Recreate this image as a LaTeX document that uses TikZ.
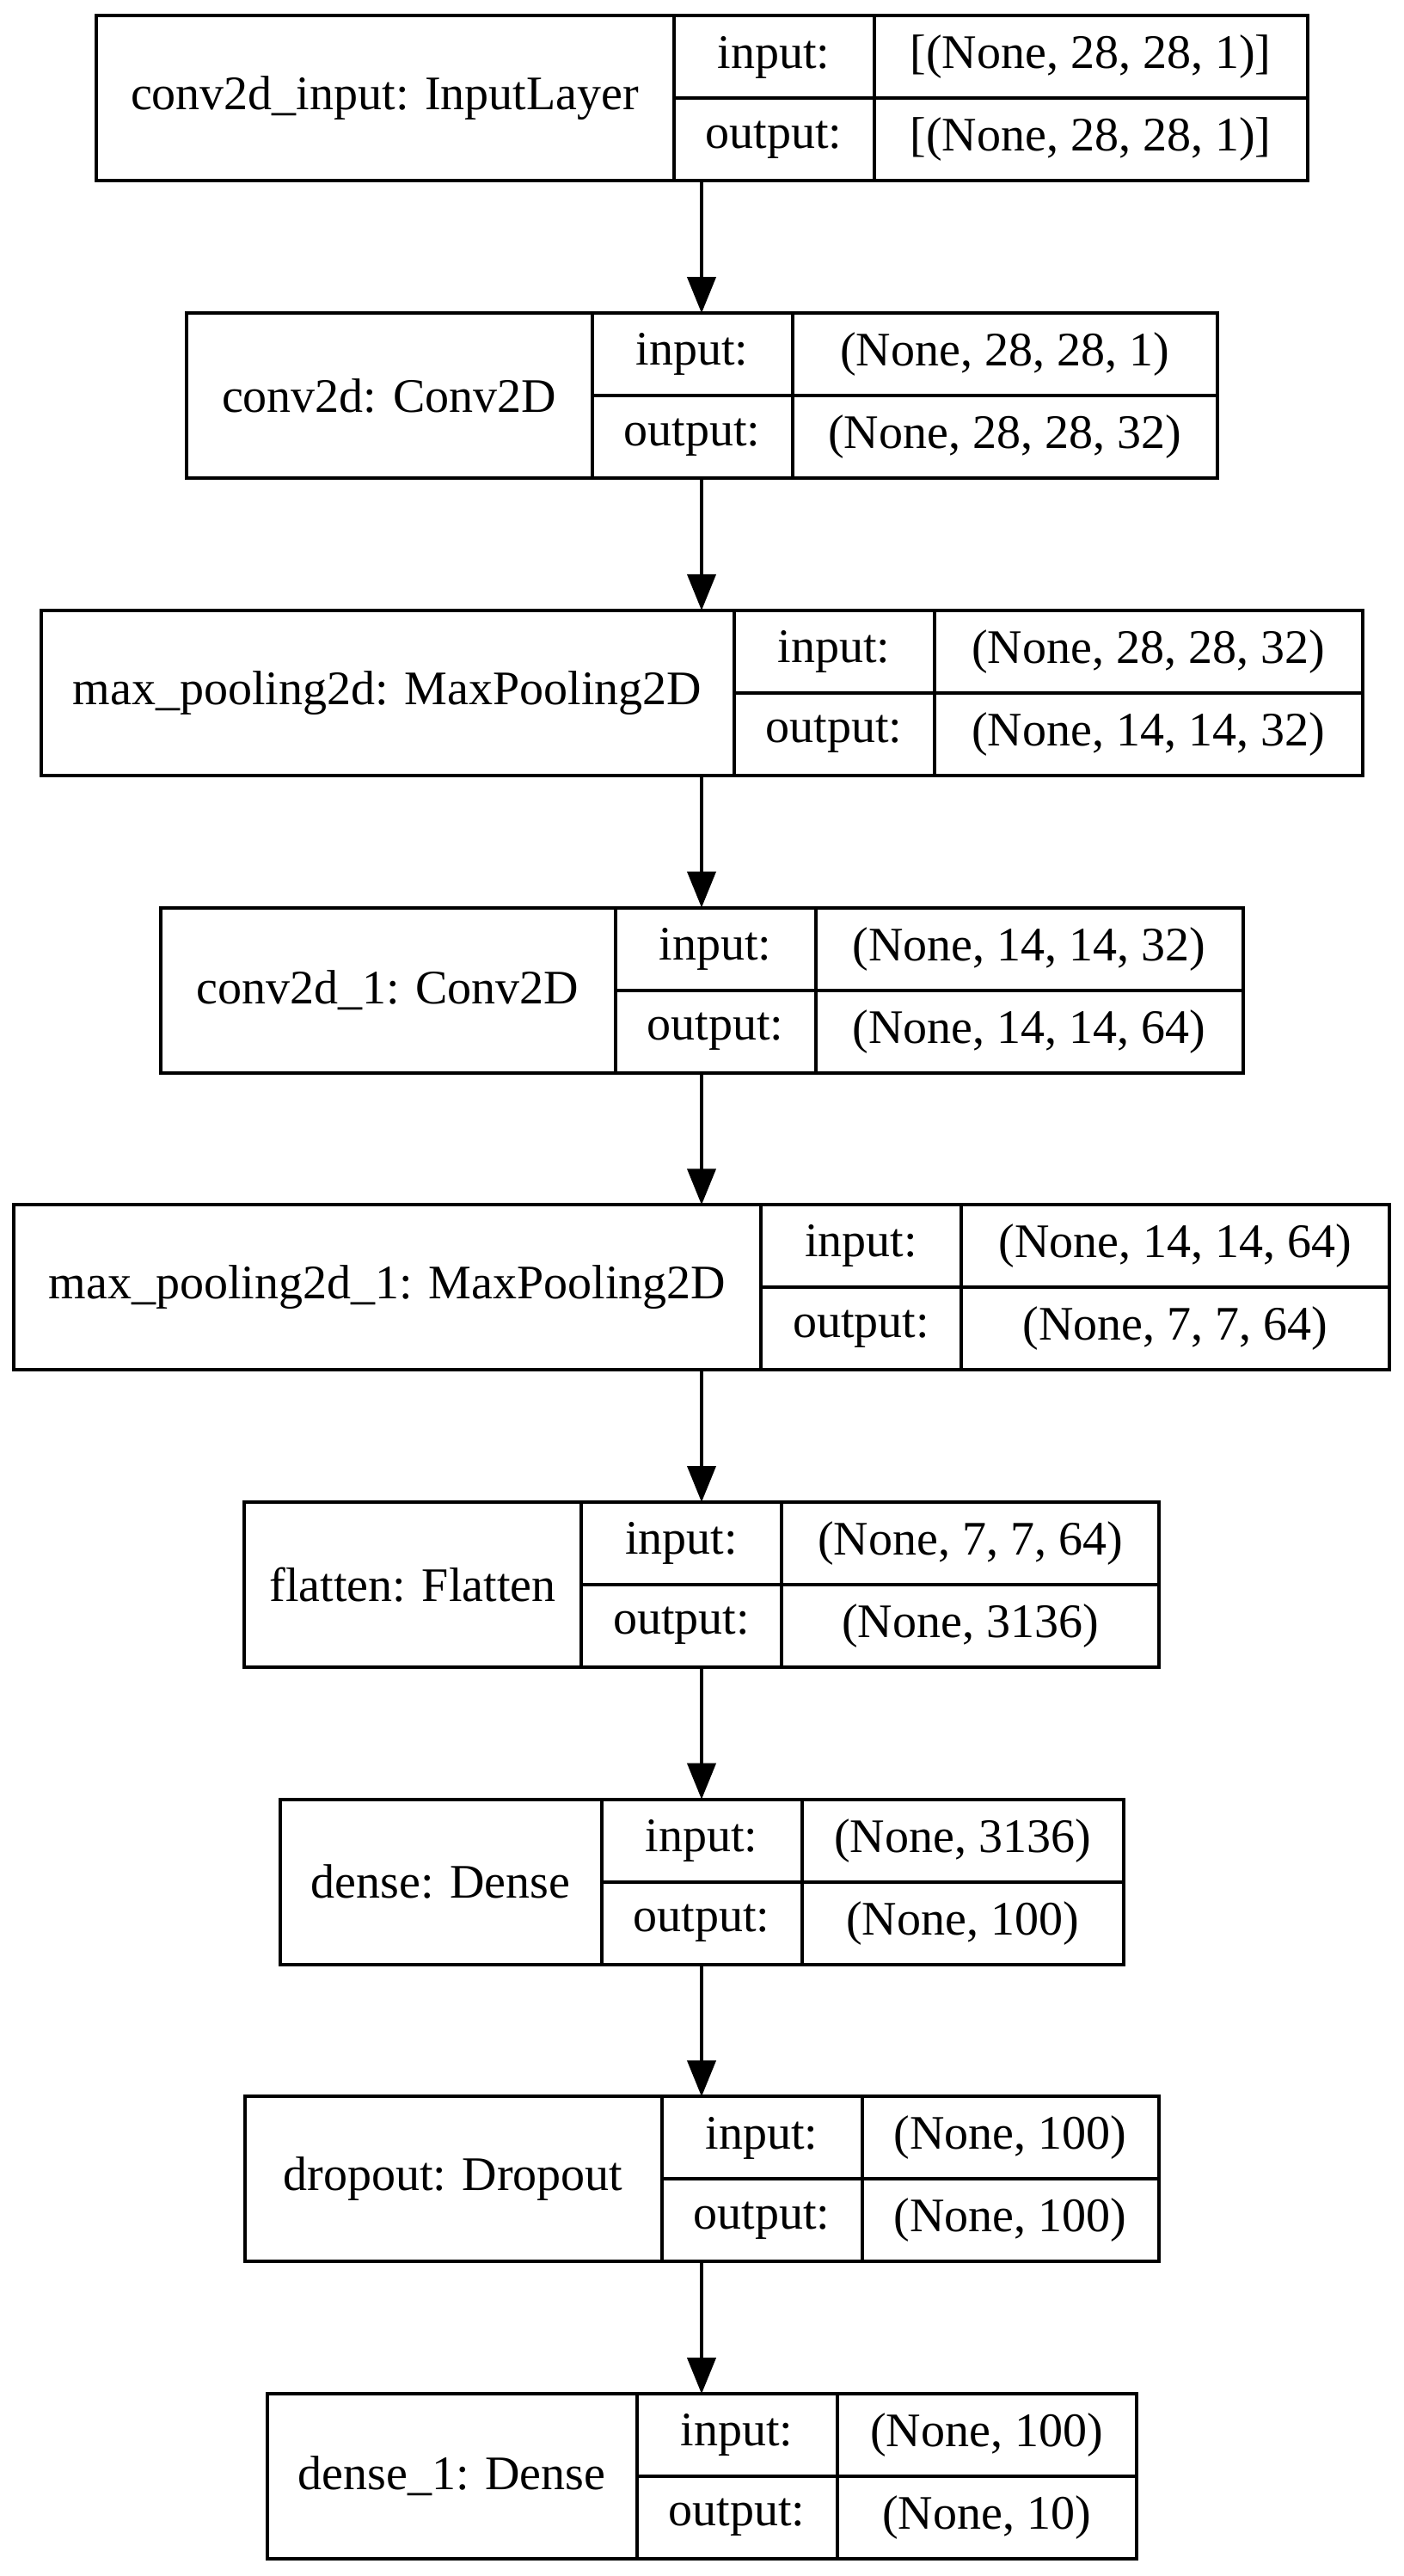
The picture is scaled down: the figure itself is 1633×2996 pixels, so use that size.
\documentclass[tikz,border=0pt]{standalone}
\usepackage{fontspec}
\setmainfont{Liberation Serif}
\usetikzlibrary{arrows.meta}
\newcommand{\px}{0.25pt}

\begin{document}
\begin{tikzpicture}[x=0.25pt, y=-0.25pt,
			every node/.style={font=\fontsize{14}{16}\selectfont, inner sep=0pt, outer sep=0pt},
			layerbox/.style={draw, line width=1pt, minimum height=192*\px},
			namecell/.style={draw, line width=1pt, minimum height=192*\px},
			portcell/.style={draw, line width=1pt, minimum width=233*\px, minimum height=96*\px},
			valcell/.style={draw, line width=1pt, minimum height=96*\px},
			arr/.style={-{Triangle[length=10.5pt, width=8.25pt]}, line width=1pt}]
			\useasboundingbox (0,0) rectangle (1633,2996);
			% conv2d_input
			\node[layerbox, minimum width=1409*\px] (inp) at (816,114.5) {};
			\node[namecell, minimum width=672*\px, anchor=west] (inp-n) at (inp.west) {conv2d\_input: InputLayer};
			\node[portcell, anchor=north west] (inp-pi) at (inp-n.north east) {input:};
			\node[portcell, anchor=south west] (inp-po) at (inp-n.south east) {output:};
			\node[valcell, minimum width=504*\px, anchor=north west] (inp-vi) at (inp-pi.north east) {[(None, 28, 28, 1)]};
			\node[valcell, minimum width=504*\px, anchor=south west] (inp-vo) at (inp-po.south east) {[(None, 28, 28, 1)]};
			% conv2d
			\node[layerbox, minimum width=1199*\px] (conv) at (816,460.2) {};
			\node[namecell, minimum width=472*\px, anchor=west] (conv-n) at (conv.west) {conv2d: Conv2D};
			\node[portcell, anchor=north west] (conv-pi) at (conv-n.north east) {input:};
			\node[portcell, anchor=south west] (conv-po) at (conv-n.south east) {output:};
			\node[valcell, minimum width=494*\px, anchor=north west] (conv-vi) at (conv-pi.north east) {(None, 28, 28, 1)};
			\node[valcell, minimum width=494*\px, anchor=south west] (conv-vo) at (conv-po.south east) {(None, 28, 28, 32)};
			% max_pooling2d
			\node[layerbox, minimum width=1537*\px] (pool) at (816,805.9) {};
			\node[namecell, minimum width=806*\px, anchor=west] (pool-n) at (pool.west) {max\_pooling2d: MaxPooling2D};
			\node[portcell, anchor=north west] (pool-pi) at (pool-n.north east) {input:};
			\node[portcell, anchor=south west] (pool-po) at (pool-n.south east) {output:};
			\node[valcell, minimum width=498*\px, anchor=north west] (pool-vi) at (pool-pi.north east) {(None, 28, 28, 32)};
			\node[valcell, minimum width=498*\px, anchor=south west] (pool-vo) at (pool-po.south east) {(None, 14, 14, 32)};
			% conv2d_1
			\node[layerbox, minimum width=1259*\px] (conv1) at (816,1151.6) {};
			\node[namecell, minimum width=529*\px, anchor=west] (conv1-n) at (conv1.west) {conv2d\_1: Conv2D};
			\node[portcell, anchor=north west] (conv1-pi) at (conv1-n.north east) {input:};
			\node[portcell, anchor=south west] (conv1-po) at (conv1-n.south east) {output:};
			\node[valcell, minimum width=497*\px, anchor=north west] (conv1-vi) at (conv1-pi.north east) {(None, 14, 14, 32)};
			\node[valcell, minimum width=497*\px, anchor=south west] (conv1-vo) at (conv1-po.south east) {(None, 14, 14, 64)};
			% max_pooling2d_1
			\node[layerbox, minimum width=1600*\px] (pool1) at (816,1497.3) {};
			\node[namecell, minimum width=869*\px, anchor=west] (pool1-n) at (pool1.west) {max\_pooling2d\_1: MaxPooling2D};
			\node[portcell, anchor=north west] (pool1-pi) at (pool1-n.north east) {input:};
			\node[portcell, anchor=south west] (pool1-po) at (pool1-n.south east) {output:};
			\node[valcell, minimum width=498*\px, anchor=north west] (pool1-vi) at (pool1-pi.north east) {(None, 14, 14, 64)};
			\node[valcell, minimum width=498*\px, anchor=south west] (pool1-vo) at (pool1-po.south east) {(None, 7, 7, 64)};
			% flatten
			\node[layerbox, minimum width=1064*\px] (flat) at (816,1843) {};
			\node[namecell, minimum width=392*\px, anchor=west] (flat-n) at (flat.west) {flatten: Flatten};
			\node[portcell, anchor=north west] (flat-pi) at (flat-n.north east) {input:};
			\node[portcell, anchor=south west] (flat-po) at (flat-n.south east) {output:};
			\node[valcell, minimum width=439*\px, anchor=north west] (flat-vi) at (flat-pi.north east) {(None, 7, 7, 64)};
			\node[valcell, minimum width=439*\px, anchor=south west] (flat-vo) at (flat-po.south east) {(None, 3136)};
			% dense
			\node[layerbox, minimum width=981*\px] (dense) at (816,2188.7) {};
			\node[namecell, minimum width=374*\px, anchor=west] (dense-n) at (dense.west) {dense: Dense};
			\node[portcell, anchor=north west] (dense-pi) at (dense-n.north east) {input:};
			\node[portcell, anchor=south west] (dense-po) at (dense-n.south east) {output:};
			\node[valcell, minimum width=374*\px, anchor=north west] (dense-vi) at (dense-pi.north east) {(None, 3136)};
			\node[valcell, minimum width=374*\px, anchor=south west] (dense-vo) at (dense-po.south east) {(None, 100)};
			% dropout
			\node[layerbox, minimum width=1063*\px] (drop) at (816,2534.4) {};
			\node[namecell, minimum width=485*\px, anchor=west] (drop-n) at (drop.west) {dropout: Dropout};
			\node[portcell, anchor=north west] (drop-pi) at (drop-n.north east) {input:};
			\node[portcell, anchor=south west] (drop-po) at (drop-n.south east) {output:};
			\node[valcell, minimum width=345*\px, anchor=north west] (drop-vi) at (drop-pi.north east) {(None, 100)};
			\node[valcell, minimum width=345*\px, anchor=south west] (drop-vo) at (drop-po.south east) {(None, 100)};
			% dense_1
			\node[layerbox, minimum width=1011*\px] (dense1) at (816,2880.1) {};
			\node[namecell, minimum width=430*\px, anchor=west] (dense1-n) at (dense1.west) {dense\_1: Dense};
			\node[portcell, anchor=north west] (dense1-pi) at (dense1-n.north east) {input:};
			\node[portcell, anchor=south west] (dense1-po) at (dense1-n.south east) {output:};
			\node[valcell, minimum width=348*\px, anchor=north west] (dense1-vi) at (dense1-pi.north east) {(None, 100)};
			\node[valcell, minimum width=348*\px, anchor=south west] (dense1-vo) at (dense1-po.south east) {(None, 10)};
			% edges
			\draw[arr] (inp) -- (conv);
			\draw[arr] (conv) -- (pool);
			\draw[arr] (pool) -- (conv1);
			\draw[arr] (conv1) -- (pool1);
			\draw[arr] (pool1) -- (flat);
			\draw[arr] (flat) -- (dense);
			\draw[arr] (dense) -- (drop);
			\draw[arr] (drop) -- (dense1);
		\end{tikzpicture}
\end{document}
